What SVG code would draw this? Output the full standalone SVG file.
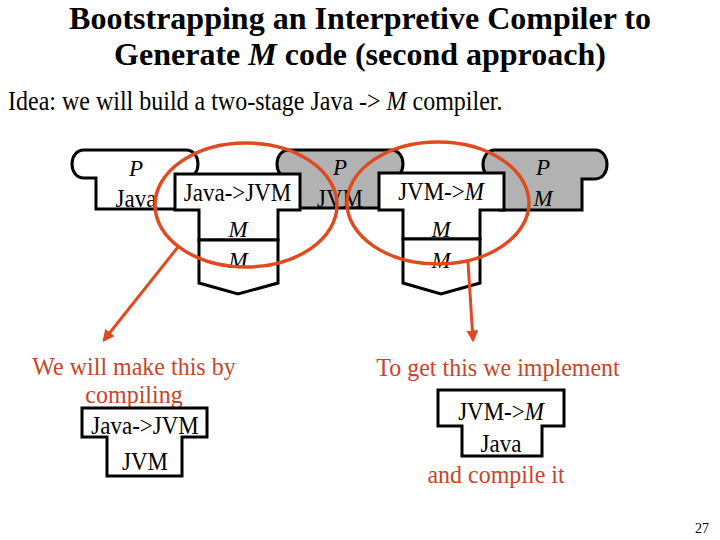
<svg xmlns="http://www.w3.org/2000/svg" width="720" height="540" viewBox="0 0 720 540">
<defs>
<style>
text{font-family:"Liberation Serif","Times New Roman",serif;fill:#000}
.title{font-size:32px;font-weight:bold;text-anchor:middle}
.body{font-size:24px}
.d{font-size:23px;text-anchor:middle}
.red{font-size:24px;fill:#c8452a;text-anchor:middle}
.it{font-style:italic}
.shape{stroke:#000;stroke-width:3;stroke-linejoin:miter}
.white{fill:#fff}
.gray{fill:#b2b2b2}
.ring{fill:none;stroke:#e04a1f;stroke-width:3.5}
.arrow{fill:none;stroke:#e04a1f;stroke-width:3}
</style>
<marker id="ah" viewBox="0 0 10 10" refX="8" refY="5" markerWidth="4" markerHeight="4" orient="auto" markerUnits="strokeWidth">
<path d="M0,0 L10,5 L0,10 Z" fill="#e04a1f"/>
</marker>
</defs>
<rect width="720" height="540" fill="#fff"/>

<g id="title">
<text class="title" x="360" y="29">Bootstrapping an Interpretive Compiler to</text>
<text class="title" x="360" y="65">Generate <tspan class="it">M</tspan> code (second approach)</text>
</g>
<g id="idea">
<text class="body" transform="translate(8,110) scale(1,1.12)">Idea: we will build a two-stage Java -&gt; <tspan class="it">M</tspan> compiler.</text>
</g>

<g id="prog-java">
<path class="shape white" d="M96,209 V178 H84 C68,178 68,150 84,150 H186 C202,150 202,178 186,178 H177 V209 Z"/>
<text class="d it" x="136" y="176">P</text>
<text class="d" transform="translate(136,207) scale(1,1.1)">Java</text>
</g>
<g id="prog-jvm">
<path class="shape gray" d="M298,208 V178 H289 C273,178 273,150 289,150 H391 C407,150 407,178 391,178 H381 V208 Z"/>
<text class="d it" x="340" y="175">P</text>
<text class="d" transform="translate(340,207) scale(1,1.1)">JVM</text>
</g>
<g id="prog-m">
<path class="shape gray" d="M500,210 V179 H495 C479,179 479,150 495,150 H595 C611,150 611,179 595,179 H582 V210 Z"/>
<text class="d it" x="543" y="175">P</text>
<text class="d it" x="543" y="206">M</text>
</g>

<g id="t-java-jvm">
<path class="shape white" d="M175,174 H300 V210 H278 V240 H199 V210 H175 Z"/>
<path class="shape white" d="M199,240 H278 V283 L238,294 L199,283 Z"/>
<text class="d" transform="translate(237.5,201) scale(1,1.1)">Java-&gt;JVM</text>
<text class="d it" x="238" y="237">M</text>
<text class="d it" x="238" y="268">M</text>
</g>
<g id="t-jvm-m">
<path class="shape white" d="M379,173 H504 V210 H480 V239 H403 V210 H379 Z"/>
<path class="shape white" d="M403,239 H480 V283 L441,294 L403,283 Z"/>
<text class="d" transform="translate(441,200) scale(1,1.1)">JVM-&gt;<tspan class="it">M</tspan></text>
<text class="d it" x="441" y="237">M</text>
<text class="d it" x="441" y="268">M</text>
</g>

<g id="rings">
<ellipse class="ring" cx="246" cy="205" rx="91" ry="62"/>
<ellipse class="ring" cx="438" cy="203" rx="91" ry="61"/>
</g>

<g id="connectors">
<line class="arrow" x1="178" y1="247" x2="104" y2="340" marker-end="url(#ah)"/>
<line class="arrow" x1="468" y1="262" x2="473" y2="340" marker-end="url(#ah)"/>
</g>

<g id="note-left">
<text class="red" transform="translate(134,375) scale(1,1.08)">We will make this by</text>
<text class="red" transform="translate(134,403) scale(1,1.08)">compiling</text>
<path class="shape white" d="M82,408 H207 V437 H182 V476 H107 V437 H82 Z"/>
<text class="d" transform="translate(145,434) scale(1,1.1)">Java-&gt;JVM</text>
<text class="d" transform="translate(145,470) scale(1,1.1)">JVM</text>
</g>

<g id="note-right">
<text class="red" transform="translate(498,376) scale(1,1.08)">To get this we implement</text>
<path class="shape white" d="M438,390 H564 V426 H542 V456 H462 V426 H438 Z"/>
<text class="d" transform="translate(501,420) scale(1,1.1)">JVM-&gt;<tspan class="it">M</tspan></text>
<text class="d" transform="translate(501,452) scale(1,1.1)">Java</text>
<text class="red" transform="translate(496,483) scale(1,1.08)">and compile it</text>
</g>

<text x="702" y="533" style="font-size:14px;text-anchor:middle">27</text>
</svg>
